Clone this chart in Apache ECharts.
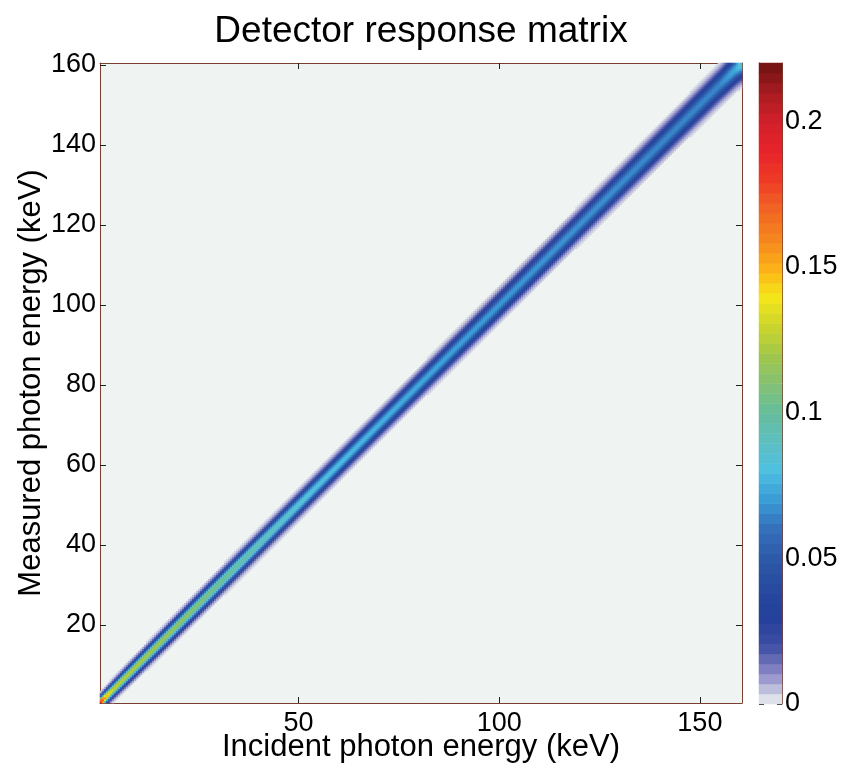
<!DOCTYPE html>
<html>
<head>
<meta charset="utf-8">
<title>Detector response matrix</title>
<script src="https://cdn.jsdelivr.net/npm/echarts@6/dist/echarts.min.js"></script>
<style>
  html, body { margin: 0; padding: 0; background: #fff; }
  #responseChart { width: 842px; height: 769px; }
</style>
</head>
<body>
<div id="responseChart"></div>
<script>
// values: peak height and width of the diagonal band
// at a few incident energies (keV)
let incidentKeV = [0.5, 2, 4, 8, 15, 25, 35, 45, 55, 70, 85, 100, 120, 140, 155, 159, 160.5];
let peakHeight = [0.2, 0.15, 0.13, 0.125, 0.12, 0.112, 0.1, 0.09, 0.082, 0.077, 0.073, 0.07, 0.068, 0.066, 0.066, 0.075, 0.09];
let bandSigmaKeV = [0.9, 1.0, 1.1, 1.2, 1.3, 1.4, 1.5, 1.55, 1.6, 1.65, 1.75, 1.85, 1.95, 2.1, 2.2, 2.25, 2.3];

// tick labels
let xTicks = [50, 100, 150];
let yTicks = [20, 40, 60, 80, 100, 120, 140, 160];
let colorTicks = [0, 0.05, 0.1, 0.15, 0.2];
let colorMax = 0.22;
let colorLevels = 64;

// colour map (0 -> 0.22 in steps of 0.01)
let jetColors = [
  "#eef3f1", "#8f8cc8", "#3e4ea4", "#24409a", "#284a9f", "#2c5aa8",
  "#356fbb", "#3a9cd6", "#4fc0e2", "#5ebfc0", "#66bd9a", "#85c174",
  "#a2c748", "#cdd52a", "#f5e618", "#fbae17", "#f5841f", "#f16424",
  "#ee3a26", "#e7232a", "#d2202a", "#a61b20", "#6e1212",
];

// look up the band parameters for an energy between two readings
function bandAt(list, e) {
  for (let i = 1; i < incidentKeV.length; i++) {
    if (e <= incidentKeV[i]) {
      let t = (e - incidentKeV[i - 1]) / (incidentKeV[i] - incidentKeV[i - 1]);
      return list[i - 1] + t * (list[i] - list[i - 1]);
    }
  }
  return list[list.length - 1];
}

// matrix cells, half keV bins (axis units = 2 * keV)
let matrixCells = [];
for (let xu = 1.5; xu <= 320.5; xu++) {
  let e = xu / 2;
  let peak = bandAt(peakHeight, e);
  let sigma = bandAt(bandSigmaKeV, e);
  for (let yu = 1.5; yu <= 320.5; yu++) {
    let d = (yu - xu) / 2;
    if (Math.abs(d) > 6 * sigma) continue;
    let v = peak * Math.exp(-(d * d) / (2 * sigma * sigma));
    if (v >= 0.0025) matrixCells.push([xu, yu, v]);
  }
}

// colour bar cells
let barCells = [];
for (let k = 0; k < colorLevels; k++) {
  barCells.push([0.5, k + 0.5, ((k + 0.5) * colorMax) / colorLevels]);
}

let frameColor = "#7a3f30";
let font = "'Liberation Sans', Arial, sans-serif";

let myChart = echarts.init(document.getElementById("responseChart"));

myChart.setOption({
  animation: false,
  title: {
    text: "Detector response matrix",
    left: "center",
    top: 8,
    textStyle: { fontSize: 37, fontWeight: "normal", color: "#000", fontFamily: font },
  },
  grid: [
    { left: 100, top: 63, width: 642, height: 640, outerBoundsMode: "none", show: true, backgroundColor: "#eff4f2", borderWidth: 0 },
    { left: 759, top: 63, width: 23, height: 641, outerBoundsMode: "none", show: false },
  ],
  xAxis: [
    {
      type: "value", gridIndex: 0, position: "bottom", min: 0.5, max: 160.5,
      name: "Incident photon energy (keV)", nameLocation: "middle", nameGap: 29, nameMoveOverlap: false,
      nameTextStyle: { fontSize: 31, color: "#000", fontFamily: font },
      axisLine: { show: true, lineStyle: { color: frameColor, width: 1 } },
      axisTick: { show: true, inside: true, length: 6, customValues: xTicks, lineStyle: { color: "#222" } },
      axisLabel: { customValues: xTicks, fontSize: 27, color: "#000", fontFamily: font, margin: 7 },
      splitLine: { show: false },
    },
    {
      type: "value", gridIndex: 0, position: "top", min: 0.5, max: 160.5,
      axisLine: { show: true, lineStyle: { color: frameColor, width: 1 } },
      axisTick: { show: true, inside: true, length: 6, customValues: xTicks, lineStyle: { color: "#222" } },
      axisLabel: { show: false },
      splitLine: { show: false },
    },
    // hidden, half keV axis for the heatmap cells
    { type: "value", gridIndex: 0, min: 1, max: 321, show: false },
    // colour bar
    { type: "value", gridIndex: 1, min: 0, max: 1, show: false },
  ],
  yAxis: [
    {
      type: "value", gridIndex: 0, position: "left", min: 0.5, max: 160.5,
      name: "Measured photon energy (keV)", nameLocation: "middle", nameGap: 53, nameMoveOverlap: false,
      nameTextStyle: { fontSize: 31, color: "#000", fontFamily: font },
      axisLine: { show: true, lineStyle: { color: frameColor, width: 1 } },
      axisTick: { show: true, inside: true, length: 6, customValues: yTicks, lineStyle: { color: "#222" } },
      axisLabel: { customValues: yTicks, fontSize: 27, color: "#000", fontFamily: font, margin: 4 },
      splitLine: { show: false },
    },
    {
      type: "value", gridIndex: 0, position: "right", min: 0.5, max: 160.5,
      axisLine: { show: true, lineStyle: { color: frameColor, width: 1 } },
      axisTick: { show: true, inside: true, length: 6, customValues: yTicks, lineStyle: { color: "#222" } },
      axisLabel: { show: false },
      splitLine: { show: false },
    },
    { type: "value", gridIndex: 0, min: 1, max: 321, show: false },
    // colour bar levels
    { type: "value", gridIndex: 1, min: 0, max: colorLevels, show: false },
    {
      type: "value", gridIndex: 1, position: "right", min: 0, max: colorMax,
      axisLine: { show: true, lineStyle: { color: frameColor, width: 1 } },
      axisTick: { show: true, inside: true, length: 5, customValues: colorTicks, lineStyle: { color: "#222" } },
      axisLabel: { customValues: colorTicks, fontSize: 27, color: "#000", fontFamily: font, margin: 3 },
      splitLine: { show: false },
    },
    {
      type: "value", gridIndex: 1, position: "left", min: 0, max: colorMax,
      axisLine: { show: true, lineStyle: { color: frameColor, width: 1 } },
      axisTick: { show: true, inside: true, length: 5, customValues: colorTicks, lineStyle: { color: "#222" } },
      axisLabel: { show: false },
      splitLine: { show: false },
    },
  ],
  visualMap: {
    type: "continuous",
    show: false,
    min: 0,
    max: colorMax,
    seriesIndex: [0, 1],
    inRange: { color: jetColors },
  },
  series: [
    {
      name: "Response",
      type: "heatmap",
      xAxisIndex: 2,
      yAxisIndex: 2,
      data: matrixCells,
      progressive: 0,
      emphasis: { disabled: true },
      itemStyle: { borderWidth: 0 },
    },
    {
      name: "Colour bar",
      type: "heatmap",
      xAxisIndex: 3,
      yAxisIndex: 3,
      data: barCells,
      progressive: 0,
      emphasis: { disabled: true },
      itemStyle: { borderWidth: 0 },
    },
  ],
});
</script>
</body>
</html>
